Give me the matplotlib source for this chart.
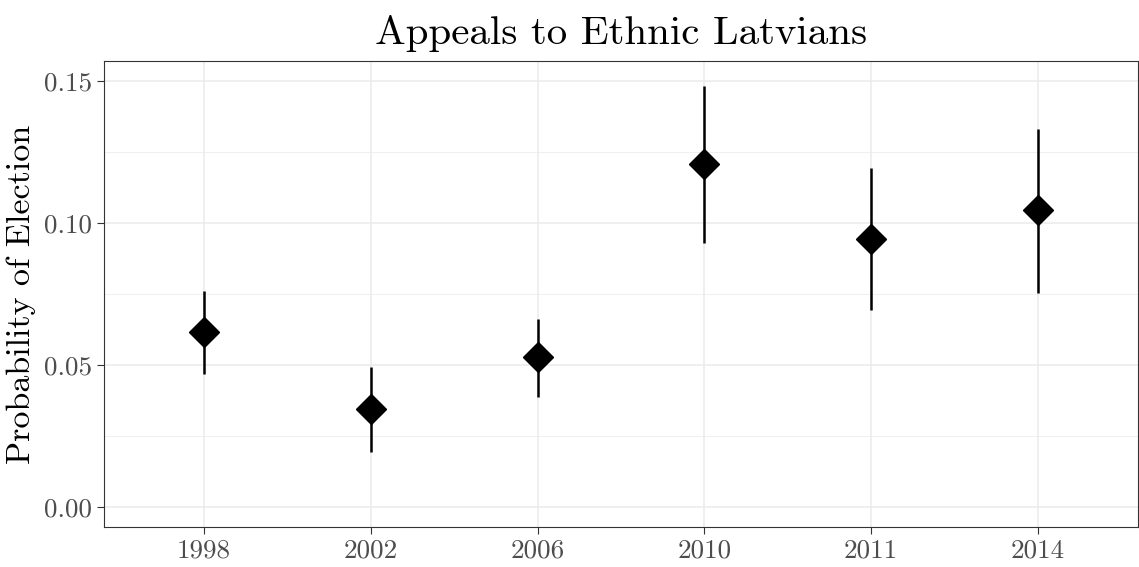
import numpy as np
import matplotlib
matplotlib.use('Agg')
import matplotlib.pyplot as plt
from matplotlib.ticker import MultipleLocator

years = ['1998', '2002', '2006', '2010', '2011', '2014']
est = [0.0616, 0.0345, 0.0528, 0.1208, 0.0944, 0.1046]
lower = [0.0468, 0.0194, 0.0387, 0.0930, 0.0694, 0.0754]
upper = [0.0761, 0.0493, 0.0662, 0.1482, 0.1194, 0.1331]
yticks = [0.00, 0.05, 0.10, 0.15]
ytick_labels = ['0.00', '0.05', '0.10', '0.15']

plt.rcParams['font.family'] = 'cmr10'
plt.rcParams['axes.formatter.use_mathtext'] = True

fig = plt.figure(figsize=(11.39, 5.67), dpi=100)
ax = fig.add_axes([104 / 1139, 40 / 567, 1034 / 1139, 466 / 567])

x = np.arange(1, len(years) + 1)
ax.vlines(x, lower, upper, color='black', lw=1.8, zorder=3)
ax.plot(x, est, 'D', color='black', ms=15, zorder=4)

ax.set_xlim(0.4, len(years) + 0.6)
ax.set_ylim(-0.00704, 0.157)
ax.set_xticks(x)
ax.set_xticklabels(years)
ax.set_yticks(yticks)
ax.set_yticklabels(ytick_labels)
ax.yaxis.set_minor_locator(MultipleLocator(0.025))

ax.grid(True, which='major', color='#ebebeb', lw=1.1, zorder=0)
ax.grid(True, which='minor', axis='y', color='#ebebeb', lw=0.55, zorder=0)
ax.set_axisbelow(True)
for s in ax.spines.values():
    s.set_color('#333333')
    s.set_linewidth(0.8)
ax.tick_params(axis='both', which='major', colors='#333333', labelcolor='#4d4d4d',
               labelsize=19.5, length=5, width=0.8)
ax.tick_params(axis='y', which='minor', length=0)

ax.set_ylabel('Probability of Election', fontsize=24.5, labelpad=6)
ax.set_title('Appeals to Ethnic Latvians', fontsize=29.5, pad=12)

fig.savefig('out.png', dpi=100)
